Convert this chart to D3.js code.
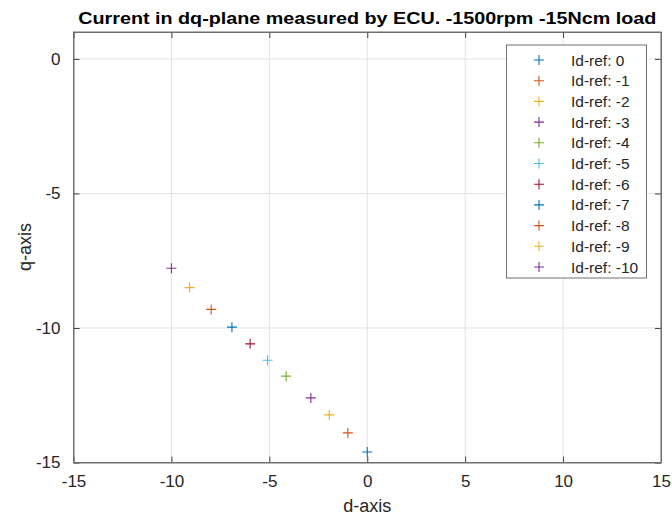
<!DOCTYPE html>
<html>
<head>
<meta charset="utf-8">
<script src="https://cdn.jsdelivr.net/npm/d3@7"></script>
<style>
  body { margin: 0; background: #fff; }
  text { font-family: "Liberation Sans", Arial, sans-serif; fill: #262626; }
</style>
</head>
<body>
<div id="chart"></div>
<script>
// one point per Id-ref setting
const idRefs = [0, -1, -2, -3, -4, -5, -6, -7, -8, -9, -10]
const dVals = [0.0, -0.99, -1.94, -2.88, -4.14, -5.09, -5.98, -6.91, -7.97, -9.07, -10.0]
const qVals = [-14.61, -13.9, -13.23, -12.6, -11.79, -11.2, -10.59, -9.97, -9.31, -8.5, -7.78]
const xTicks = [-15, -10, -5, 0, 5, 10, 15]
const yTicks = [-15, -10, -5, 0]
const colors = ["#0072BD", "#D95319", "#EDB120", "#7E2F8E", "#77AC30", "#4DBEEE", "#A2142F"]

const width = 672
const height = 515
const padLeft = 73.5, padRight = 661, padTop = 32, padBottom = 462.5

let svg = d3.select("#chart")
  .append("svg")
  .attr("width", width)
  .attr("height", height)

let scaleX = d3.scaleLinear().domain([-15, 15]).range([padLeft, padRight])
let scaleY = d3.scaleLinear().domain([-15, 1]).range([padBottom, padTop])
let fmt = d => String(d) // plain hyphen minus like matlab

// grid
svg.append("g").selectAll("line")
  .data(xTicks)
  .enter().append("line")
  .attr("x1", d => scaleX(d)).attr("x2", d => scaleX(d))
  .attr("y1", padTop).attr("y2", padBottom)
  .attr("stroke", "#e3e3e3")
svg.append("g").selectAll("line")
  .data(yTicks)
  .enter().append("line")
  .attr("x1", padLeft).attr("x2", padRight)
  .attr("y1", d => scaleY(d)).attr("y2", d => scaleY(d))
  .attr("stroke", "#e3e3e3")

// axes, ticks pointing inward like matlab
let xAxis = d3.axisBottom(scaleX).tickValues(xTicks).tickFormat(fmt).tickSizeInner(-6).tickSizeOuter(0).tickPadding(12)
let yAxis = d3.axisLeft(scaleY).tickValues(yTicks).tickFormat(fmt).tickSizeInner(-6).tickSizeOuter(0).tickPadding(13)

let gx = svg.append("g")
  .attr("transform", "translate(0," + padBottom + ")")
  .call(xAxis)
let gy = svg.append("g")
  .attr("transform", "translate(" + padLeft + ",0)")
  .call(yAxis)
svg.append("g")
  .attr("transform", "translate(0," + padTop + ")")
  .call(d3.axisTop(scaleX).tickValues(xTicks).tickSizeInner(-6).tickSizeOuter(0).tickFormat(""))
svg.append("g")
  .attr("transform", "translate(" + padRight + ",0)")
  .call(d3.axisRight(scaleY).tickValues(yTicks).tickSizeInner(-6).tickSizeOuter(0).tickFormat(""))

svg.selectAll(".domain").attr("stroke", "#707070")
svg.selectAll(".tick line").attr("stroke", "#404040")
gx.selectAll("text").attr("font-size", 17).attr("fill", "#262626")
  .attr("font-family", "Liberation Sans, Arial, sans-serif")
gy.selectAll("text").attr("font-size", 17).attr("fill", "#262626")
  .attr("font-family", "Liberation Sans, Arial, sans-serif")
// full box
svg.append("rect")
  .attr("x", padLeft).attr("y", padTop)
  .attr("width", padRight - padLeft).attr("height", padBottom - padTop)
  .attr("fill", "none").attr("stroke", "#707070")

// points
let pts = idRefs.map((r, i) => ({ r: r, d: dVals[i], q: qVals[i], c: colors[i % colors.length] }))
let plus = "M-5,0H5M0,-5V5"
svg.append("g").selectAll("path")
  .data(pts)
  .enter().append("path")
  .attr("d", plus)
  .attr("transform", d => "translate(" + scaleX(d.d) + "," + scaleY(d.q) + ")")
  .attr("stroke", d => d.c)
  .attr("stroke-width", 1.1)
  .attr("fill", "none")

// title + labels
svg.append("text")
  .attr("x", (padLeft + padRight) / 2)
  .attr("y", 23.5)
  .attr("text-anchor", "middle")
  .attr("font-weight", "bold")
  .attr("font-size", 17)
  .attr("textLength", 578)
  .attr("lengthAdjust", "spacingAndGlyphs")
  .style("fill", "#000")
  .text("Current in dq-plane measured by ECU. -1500rpm -15Ncm load")
svg.append("text")
  .attr("x", (padLeft + padRight) / 2)
  .attr("y", 512)
  .attr("text-anchor", "middle")
  .attr("font-size", 18)
  .text("d-axis")
svg.append("text")
  .attr("transform", "translate(31,247) rotate(-90)")
  .attr("text-anchor", "middle")
  .attr("font-size", 18)
  .text("q-axis")

// legend
let legend = svg.append("g")
legend.append("rect")
  .attr("x", 506.5).attr("y", 45)
  .attr("width", 140).attr("height", 233)
  .attr("fill", "#fff").attr("stroke", "#707070")
let rows = legend.selectAll(".row")
  .data(pts)
  .enter().append("g")
  .attr("class", "row")
  .attr("transform", (d, i) => "translate(0," + (60 + i * 20.7) + ")")
rows.append("path")
  .attr("d", plus)
  .attr("transform", "translate(539,0)")
  .attr("stroke", d => d.c)
  .attr("stroke-width", 1.1)
rows.append("text")
  .attr("x", 571)
  .attr("y", 5.5)
  .attr("font-size", 15.5)
  .text(d => "Id-ref: " + d.r)
</script>
</body>
</html>
